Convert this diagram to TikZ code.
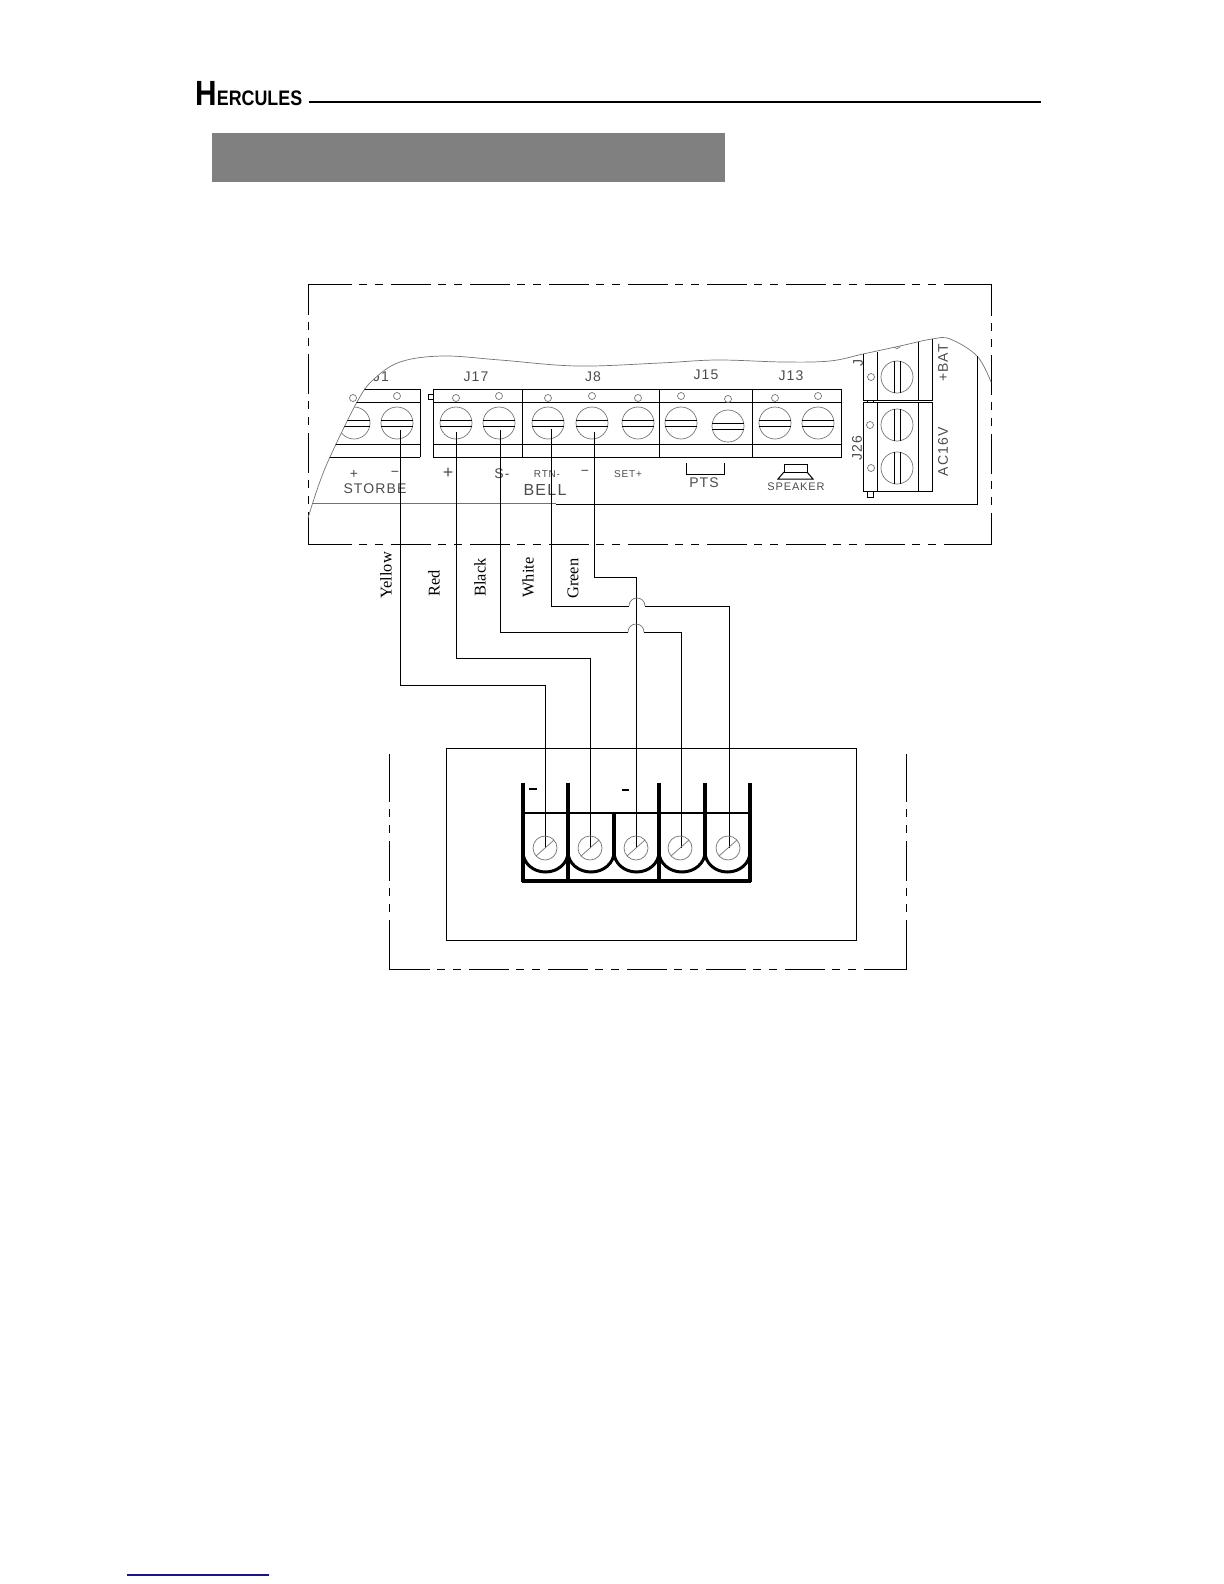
\documentclass[tikz,border=0pt]{standalone}
\usepackage{fontspec}
\setmainfont{Liberation Serif}
\newfontfamily\cadfont[LetterSpace=8]{Liberation Sans}
\newfontfamily\headfont[FakeStretch=0.85]{Liberation Sans}
\usetikzlibrary{calc}
\definecolor{barcolor}{gray}{0.5}
\definecolor{linkblue}{RGB}{20,20,140}
\tikzset{
    cad/.style={draw=black, line width=0.5pt},
    cadthin/.style={draw=black!55, line width=0.35pt},
    cadtext/.style={font=\cadfont\fontsize{7}{7}\selectfont, text=black!70, inner sep=0},
    borderline/.style={draw=black, line width=0.5pt, dash pattern=on 20pt off 3.5pt on 4pt off 4pt on 4pt off 4pt, dash phase=20pt},
    wire/.style={draw=black, line width=0.5pt},
    wirelabel/.style={font=\fontsize{8.2}{8.2}\selectfont, rotate=90, anchor=west, inner sep=0},
    thickwall/.style={draw=black, line width=1.7pt},
}
\newcommand{\hscrew}[2]{
    \draw[cadthin] (#1, #2) circle (16);
    \draw[cad] (#1-16, #2-3) -- (#1+16, #2-3) (#1-16, #2+3) -- (#1+16, #2+3);
}
\newcommand{\vscrew}[2]{
    \draw[cadthin] (#1, #2) circle (16);
    \draw[cad] (#1-3, #2-16) -- (#1-3, #2+16) (#1+3, #2-16) -- (#1+3, #2+16);
}
\newcommand{\boardcurve}{(308, 518) (318, 487) (330, 457) (357, 402) (373, 380) (400, 362) (443, 356) (500, 360) (577, 366) (660, 363) (717, 360) (783, 362) (830, 361) (863, 354) (900, 346) (932, 339) (950, 339) (977, 356) (991, 382)}
\begin{document}
\begin{tikzpicture}[x=0.5pt, y=-0.5pt]
    \useasboundingbox (0, 0) rectangle (1224, 1584);
    % page head
    \node[inner sep=0, anchor=base west] (title) at (195, 105) {\headfont\bfseries{\fontsize{17.5}{17.5}\selectfont H}{\fontsize{10.5}{10.5}\selectfont ERCULES}};
    \draw[line width=1pt] (309, 102) -- (1041, 102);
    \fill[barcolor] (212, 133) rectangle (725, 182);
    \draw[linkblue, line width=0.6pt] (127, 1575) -- (269, 1575);
    % upper housing
    \draw[cad] (308, 315) -- (308, 284) -- (352, 284);
    \draw[cad] (946, 284) -- (991, 284) -- (991, 316);
    \draw[cad] (991, 513) -- (991, 544) -- (946, 544);
    \draw[cad] (352, 544) -- (308, 544) -- (308, 513);
    \draw[borderline] (352, 284) -- (946, 284);
    \draw[borderline] (352, 544) -- (946, 544);
    \draw[borderline] (308, 315) -- (308, 513);
    \draw[borderline] (991, 316) -- (991, 513);
    \draw[cadthin] plot[smooth, tension=0.6] coordinates {\boardcurve};
    \draw[cadthin] (313, 503) -- (556, 503);
    \draw[cad] (556, 504) -- (977, 504) -- (977, 356);
    % terminal row
    \begin{scope}
        \clip plot[smooth, tension=0.6] coordinates {\boardcurve} -- (991, 520) -- (308, 520) -- cycle;
        \hscrew{354}{423}
        \draw[cad] (320, 389) -- (420, 389) (320, 402) -- (420, 402) (320, 444) -- (420, 444) (320, 457) -- (420, 457);
        \draw[cadthin] (897, 345) circle (3.5);
        \node[cadtext, anchor=center] (j1) at (381, 377) {J1};
    \end{scope}
    \draw[cad] (420, 389) -- (420, 457);
    \draw[cad] (433, 389) rectangle (522, 457) (433, 402) -- (522, 402) (433, 444) -- (522, 444);
    \draw[cad] (428, 394) rectangle (433, 399);
    \draw[cad] (522, 389) -- (841, 389) -- (841, 457) -- (522, 457) -- cycle;
    \draw[cad] (522, 402) -- (841, 402) (522, 444) -- (841, 444) (659, 389) -- (659, 457) (752, 389) -- (752, 457);
    \foreach \sx in {397, 456, 499, 548, 592, 638, 681, 775, 818} {
        \hscrew{\sx}{423}
    }
    \hscrew{728}{426}
    \foreach \hx/\hy in {353/398, 397/396, 456/398, 499/396, 548/398, 592/396, 638/398, 681/396, 728/399, 775/398, 818/396} {
        \draw[cadthin] (\hx, \hy) circle (3.5);
    }
    % side terminals
    \draw[cad] (863, 354) -- (863, 400) -- (932, 400) -- (932, 339) (877, 352) -- (877, 400) (918, 342) -- (918, 400);
    \draw[cad] (863, 402) rectangle (932, 491) (877, 402) -- (877, 491) (918, 402) -- (918, 491);
    \draw[cad] (867, 491) rectangle (873, 497);
    \draw[cad] (867, 400) rectangle (873, 402);
    \vscrew{897}{377}
    \vscrew{897}{425}
    \vscrew{897}{468}
    \foreach \hx/\hy in {871/377, 870/425, 871/468} {
        \draw[cadthin] (\hx, \hy) circle (3.5);
    }
    % terminal labels
    \node[cadtext] (j17) at (476, 377) {J17};
    \node[cadtext] (j8) at (593, 377) {J8};
    \node[cadtext] (j15) at (706, 375) {J15};
    \node[cadtext] (j13) at (791, 376) {J13};
    \node[cadtext, rotate=90] (j16) at (858, 363) {J};
    \node[cadtext] (plusa) at (354, 474) {+};
    \node[cadtext] (minusa) at (395, 474) {\textminus};
    \node[cadtext] (storbe) at (375, 489) {STORBE};
    \node[cadtext, font=\cadfont\fontsize{9}{9}\selectfont] (plusb) at (448, 473) {+};
    \node[cadtext] (sminus) at (502, 474) {S-};
    \node[cadtext, font=\cadfont\fontsize{5}{5}\selectfont] (rtn) at (547, 474) {RTN-};
    \node[cadtext] (minusb) at (585, 473) {\textminus};
    \node[cadtext, font=\cadfont\fontsize{5}{5}\selectfont] (setplus) at (628, 474) {SET+};
    \node[cadtext, font=\cadfont\fontsize{8}{8}\selectfont] (bell) at (545, 490) {BELL};
    \node[cadtext] (pts) at (704, 483) {PTS};
    \draw[cad] (686, 463) -- (686, 474) -- (724, 474) -- (724, 463);
    \draw[cad] (784, 464) rectangle (807, 472);
    \draw[cad] (784, 472) -- (778, 479) -- (813, 479) -- (807, 472);
    \node[cadtext, font=\cadfont\fontsize{5.5}{5.5}\selectfont] (speaker) at (796, 487) {SPEAKER};
    \node[cadtext, rotate=90] (j26) at (857, 448) {J26};
    \node[cadtext, rotate=90] (bat) at (943, 363) {+BAT};
    \node[cadtext, rotate=90] (ac) at (943, 452) {AC16V};
    % wire ends
    \coordinate (yellowtop) at (400, 430);
    \coordinate (redtop) at (456, 432);
    \coordinate (blacktop) at (500, 430);
    \coordinate (whitetop) at (551, 429);
    \coordinate (greentop) at (594, 432);
    \coordinate (yellowbend) at (545, 685);
    \coordinate (redbend) at (590, 658);
    \coordinate (greenbend) at (636, 577);
    \coordinate (yellowend) at (545, 848);
    \coordinate (redend) at (590, 848);
    \coordinate (greenend) at (636, 848);
    \coordinate (blackend) at (681, 848);
    \coordinate (whiteend) at (729, 848);
    \coordinate (blackhopa) at (628, 632);
    \coordinate (blackhopb) at (644, 632);
    \coordinate (whitehopa) at (629, 606);
    \coordinate (whitehopb) at (645, 606);
    \draw[wire] (yellowtop) |- (yellowbend) -- (yellowend);
    \draw[wire] (redtop) |- (redbend) -- (redend);
    \draw[wire] (greentop) |- (greenbend) -- (greenend);
    \draw[wire] (blacktop) |- (blackhopa);
    \draw[wire] (blackhopb) -| (blackend);
    \draw[wire] (whitetop) |- (whitehopa);
    \draw[wire] (whitehopb) -| (whiteend);
    \draw[cadthin] (blackhopa) arc (180:360:8);
    \draw[cadthin] (whitehopa) arc (180:360:8);
    \node[wirelabel] (yellow) at (386, 599) {Yellow};
    \node[wirelabel] (red) at (434, 597) {Red};
    \node[wirelabel] (black) at (480, 597) {Black};
    \node[wirelabel] (white) at (528, 598) {White};
    \node[wirelabel] (green) at (573, 599) {Green};
    % lower housing
    \draw[cad] (446, 748) rectangle (856, 940);
    \draw[cad] (389, 754) -- (389, 802);
    \draw[cad] (906, 754) -- (906, 802);
    \draw[cad] (389, 922) -- (389, 969) -- (430, 969);
    \draw[cad] (866, 969) -- (906, 969) -- (906, 922);
    \draw[borderline] (389, 802) -- (389, 922);
    \draw[borderline] (906, 802) -- (906, 922);
    \draw[borderline] (430, 969) -- (866, 969);
    % lower terminal
    \foreach \wx in {523, 568, 659, 750} {
        \draw[thickwall] (\wx, 783) -- (\wx, 882);
    }
    \draw[thickwall] (705, 783) -- (705, 858);
    \draw[thickwall] (614, 813) -- (614, 858);
    \draw[line width=1.2pt] (523, 813) -- (750, 813);
    \draw[line width=2pt] (522, 881) -- (751, 881);
    \foreach \ax/\bx in {523/568, 568/614, 614/659, 659/705, 705/750} {
        \draw[draw=black, line width=1.5pt] (\ax, 852) arc (180:0:{(\bx-\ax)/2} and 20);
    }
    \foreach \cx in {545, 590, 636, 680, 728} {
        \draw[cadthin] (\cx, 848) circle (12);
        \draw[cadthin] (\cx-9, 856) -- (\cx+9, 840);
    }
    \draw[line width=1pt] (529, 789) -- (537, 789) (622, 790) -- (629, 790);
\end{tikzpicture}
\end{document}
